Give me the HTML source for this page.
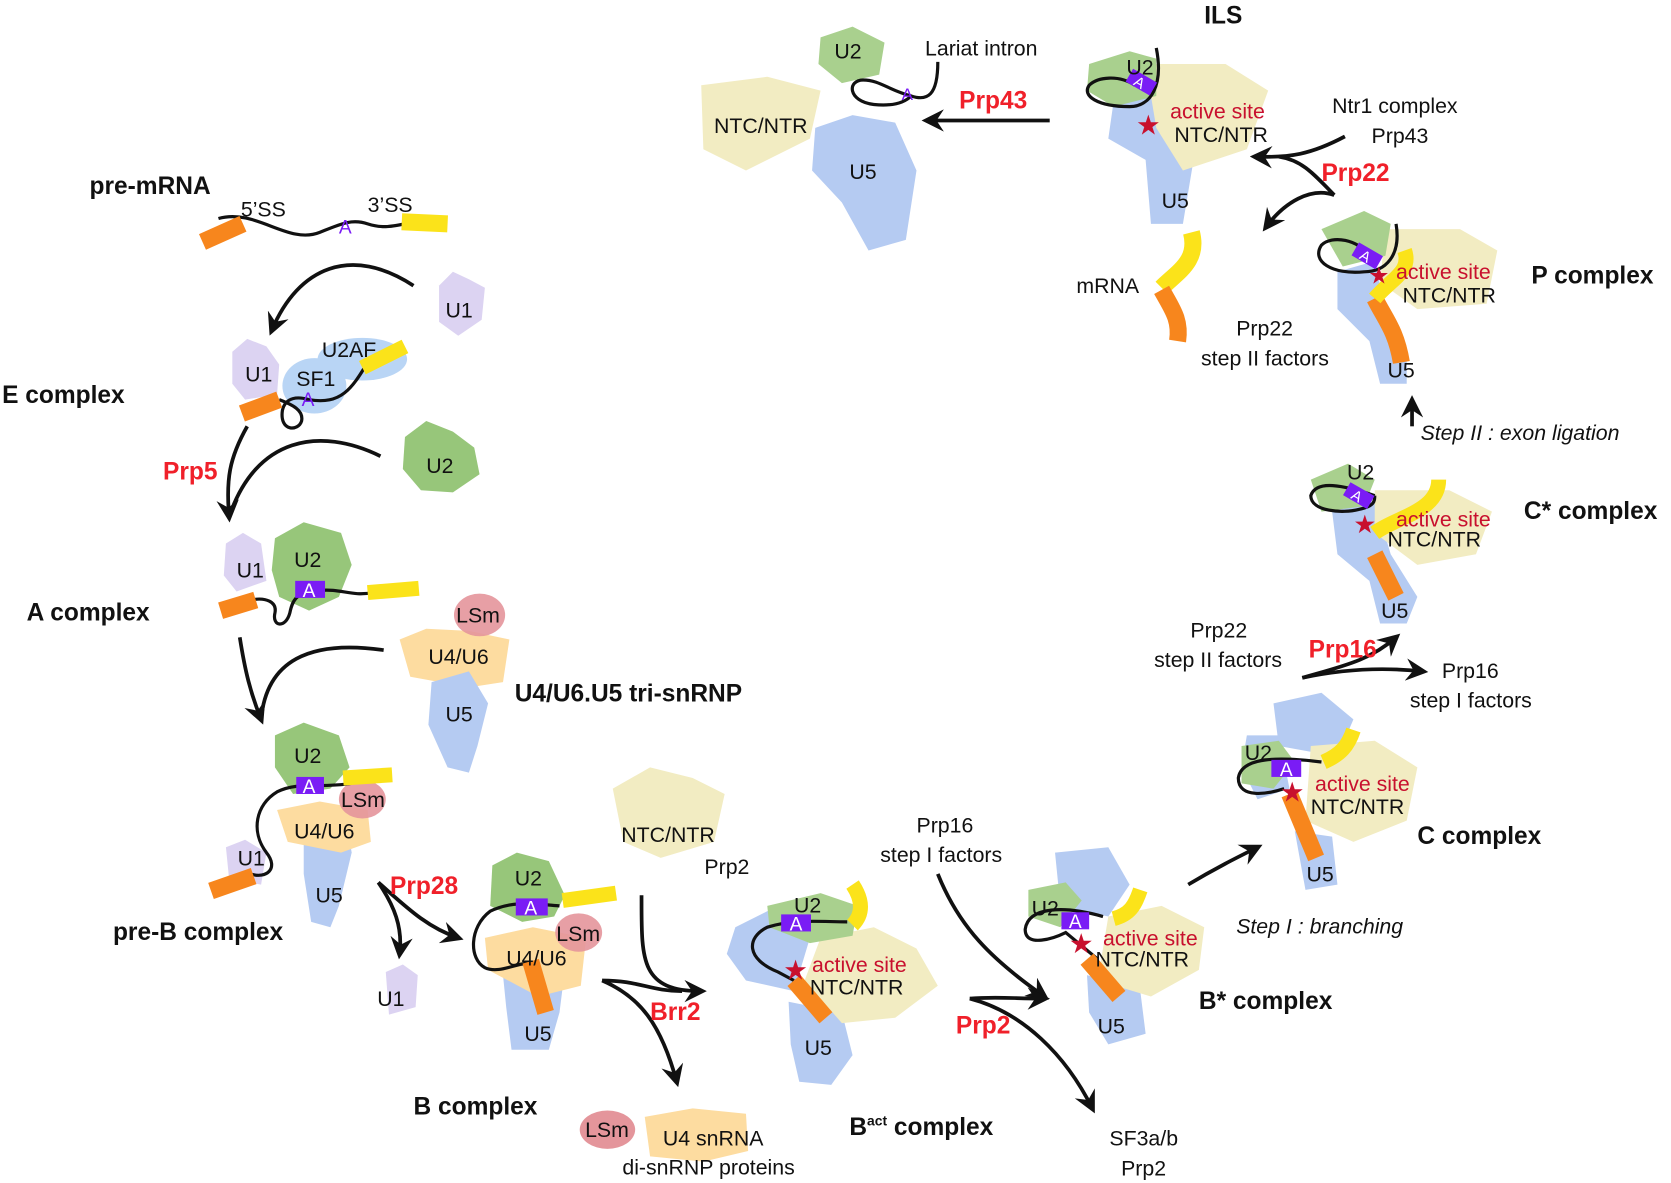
<!DOCTYPE html>
<html><head><meta charset="utf-8"><style>
html,body{margin:0;padding:0;background:#fff;}
svg{display:block}
text{font-family:"Liberation Sans",sans-serif;font-size:20px;fill:#111}
.b{font-weight:bold;font-size:23px}
.r{font-weight:bold;font-size:23px;fill:#f0202a}
.as{fill:#c8102e}
.st{fill:#c8102e;font-size:26px}
.i{font-style:italic}
.A{fill:#fff;font-size:18px}
</style></head><body>
<svg width="1671" height="1183" viewBox="0 0 1568 1110" xmlns="http://www.w3.org/2000/svg">
<defs>
<marker id="ah" viewBox="0 0 12 12" refX="9" refY="6" markerWidth="6" markerHeight="6" orient="auto" markerUnits="strokeWidth">
<path d="M0,0 L12,6 L0,12 L4,6 z" fill="#111"/></marker>
</defs>
<g fill="none" stroke="#111" stroke-width="3.5" marker-end="url(#ah)">
<path d="M388,268 C330,230 280,250 255,310"/>
<path d="M232,400 C215,430 212,450 215,485"/>
<path d="M357,428 C300,400 240,410 215,485" marker-end="none"/>
<path d="M225,598 C230,630 235,650 245,675"/>
<path d="M360,610 C290,600 250,620 245,675" marker-end="none"/>
<path d="M355,828 C370,850 378,870 375,895"/>
<path d="M355,828 C380,850 400,870 430,880"/>
<path d="M565,920 C600,935 620,960 635,1015"/>
<path d="M565,920 C600,920 610,930 640,930" marker-end="none"/>
<path d="M602,840 C602,900 600,930 658,930"/>
<path d="M880,820 C900,870 930,900 980,935" />
<path d="M910,937 C960,950 1000,990 1025,1040"/>
<path d="M910,937 C935,935 950,937 980,937"/>
<path d="M1115,830 C1140,815 1160,805 1180,795"/>
<path d="M1222,636 C1250,630 1290,625 1335,630"/>
<path d="M1222,636 C1260,625 1285,620 1310,598"/>
<path d="M1325,400 L1325,376"/>
<path d="M1262,128 C1230,145 1210,148 1178,147"/>
<path d="M1252,183 C1230,160 1220,150 1200,147" marker-end="none"/>
<path d="M1252,183 C1230,175 1205,190 1188,213"/>
<path d="M985,113 L870,113"/>
</g>
<path d="M205,205 C240,195 270,230 300,218 C320,210 330,205 345,210 C360,215 370,212 390,208" fill="none" stroke="#111" stroke-width="3"/>
<path d="M190,227 L228,210" stroke="#f7861d" stroke-width="16" fill="none"/>
<path d="M377,208 L420,210" stroke="#fbe31a" stroke-width="16" fill="none"/>
<text x="84" y="182" class="b">pre-mRNA</text><text x="226" y="203">5’SS</text><text x="345" y="199">3’SS</text>
<text x="318" y="219" style="fill:#7a1cf5;font-size:18px">A</text>
<path d="M412,268 L425,255 L440,262 L455,270 L452,300 L430,315 L412,302 Z" fill="#dcd3f2"/><text x="418" y="298">U1</text>
<path d="M218,330 L232,318 L250,325 L262,342 L260,370 L230,375 L218,360Z" fill="#dcd3f2"/>
<ellipse cx="340" cy="337" rx="42" ry="20" fill="#b9d5f5"/>
<ellipse cx="295" cy="362" rx="30" ry="26" fill="#b9d5f5"/>
<path d="M262,375 C275,380 285,385 283,395 C280,405 262,405 265,385 C268,372 280,372 290,375 C320,380 330,365 345,340" fill="none" stroke="#111" stroke-width="3"/>
<path d="M227,388 L262,375" stroke="#f7861d" stroke-width="16"/>
<path d="M340,345 L380,325" stroke="#fbe31a" stroke-width="14"/>
<text x="230" y="358">U1</text><text x="302" y="335">U2AF</text><text x="278" y="362">SF1</text><text x="283" y="381" style="fill:#7a1cf5;font-size:18px">A</text>
<text x="2" y="378" class="b">E complex</text><text x="153" y="450" class="r">Prp5</text>
<path d="M380,410 L400,395 L425,405 L445,420 L450,445 L425,462 L395,460 L378,440Z" fill="#97c67a"/><text x="400" y="444">U2</text>
<path d="M212,510 L228,500 L245,510 L250,545 L222,555 L210,540Z" fill="#dcd3f2"/>
<path d="M258,505 L285,490 L320,500 L330,530 L318,560 L290,573 L262,560 L255,535Z" fill="#97c67a"/>
<path d="M235,563 C250,560 260,565 258,575 C255,588 268,590 272,575 C275,560 280,556 300,554 C320,552 330,560 350,556" fill="none" stroke="#111" stroke-width="3"/>
<path d="M207,573 L240,563" stroke="#f7861d" stroke-width="16"/>
<path d="M345,556 L393,552" stroke="#fbe31a" stroke-width="14"/>
<rect x="277" y="545" width="28" height="16" fill="#7a1cf5"/><text x="284" y="560" class="A">A</text>
<text x="222" y="542">U1</text><text x="276" y="532">U2</text>
<text x="25" y="582" class="b">A complex</text>
<path d="M375,600 L400,590 L440,592 L478,600 L472,640 L440,645 L385,635Z" fill="#fddca0"/>
<ellipse cx="450" cy="577" rx="24" ry="20" fill="#e4959b" opacity=".9"/>
<path d="M405,640 L440,630 L458,660 L448,700 L440,725 L420,720 L402,680Z" fill="#b5cbf2"/>
<text x="428" y="584">LSm</text><text x="402" y="623">U4/U6</text><text x="418" y="677">U5</text>
<text x="483" y="658" class="b">U4/U6.U5 tri-snRNP</text>
<path d="M285,760 L325,770 L330,800 L318,850 L310,870 L292,865 L285,820Z" fill="#b5cbf2"/>
<path d="M258,690 L285,678 L318,690 L328,720 L310,740 L275,745 L258,720Z" fill="#97c67a"/>
<path d="M260,760 L300,752 L345,760 L348,790 L320,800 L270,790Z" fill="#fddca0"/>
<ellipse cx="340" cy="750" rx="22" ry="18" fill="#e4959b" opacity=".9"/>
<path d="M212,795 L230,788 L250,800 L245,830 L215,825Z" fill="#dcd3f2"/>
<path d="M330,735 C300,740 280,733 260,743 C240,755 235,780 250,800 C262,815 250,825 235,820" fill="none" stroke="#111" stroke-width="3"/>
<path d="M198,836 L238,822" stroke="#f7861d" stroke-width="16"/>
<path d="M322,730 L368,727" stroke="#fbe31a" stroke-width="14"/>
<rect x="278" y="729" width="26" height="16" fill="#7a1cf5"/><text x="284" y="744" class="A">A</text>
<text x="276" y="716">U2</text><text x="320" y="757">LSm</text><text x="276" y="787">U4/U6</text><text x="223" y="812">U1</text><text x="296" y="847">U5</text>
<text x="106" y="882" class="b">pre-B complex</text><text x="366" y="839" class="r">Prp28</text>
<path d="M362,912 L378,905 L392,915 L390,945 L365,952Z" fill="#dcd3f2"/><text x="354" y="944">U1</text>
<path d="M470,895 L510,885 L530,910 L525,950 L515,985 L480,985 L475,945Z" fill="#b5cbf2"/>
<path d="M462,812 L485,800 L515,808 L530,840 L520,860 L490,865 L460,850Z" fill="#97c67a"/>
<path d="M455,880 L500,870 L550,880 L545,925 L505,935 L458,910Z" fill="#fddca0"/>
<ellipse cx="543" cy="875" rx="22" ry="18" fill="#e4959b" opacity=".9"/>
<path d="M525,850 C500,848 480,845 460,855 C440,870 440,900 455,908 C470,915 490,900 500,905" fill="none" stroke="#111" stroke-width="3"/>
<path d="M498,902 L512,950" stroke="#f7861d" stroke-width="16"/>
<path d="M528,845 L578,838" stroke="#fbe31a" stroke-width="14"/>
<rect x="484" y="843" width="30" height="16" fill="#7a1cf5"/><text x="492" y="858" class="A">A</text>
<text x="483" y="831">U2</text><text x="522" y="883">LSm</text><text x="475" y="906">U4/U6</text><text x="492" y="977">U5</text>
<text x="388" y="1046" class="b">B complex</text><text x="610" y="957" class="r">Brr2</text>
<path d="M575,740 L610,720 L650,730 L680,745 L670,790 L620,805 L585,790Z" fill="#f2ecc2"/>
<text x="583" y="790">NTC/NTR</text><text x="661" y="820">Prp2</text>
<ellipse cx="570" cy="1060" rx="26" ry="18" fill="#e4959b"/><path d="M605,1048 L650,1040 L700,1045 L702,1080 L660,1090 L610,1085Z" fill="#fddca0"/>
<text x="549" y="1067">LSm</text><text x="622" y="1075">U4 snRNA</text><text x="584" y="1102">di-snRNP proteins</text>
<path d="M690,870 L730,850 L760,880 L745,930 L700,920 L682,895Z" fill="#b5cbf2"/>
<path d="M740,940 L790,950 L800,990 L780,1018 L750,1015 L742,980Z" fill="#b5cbf2"/>
<path d="M770,880 L820,870 L860,890 L880,925 L840,955 L790,960 L755,920Z" fill="#f2ecc2"/>
<path d="M720,850 L770,838 L805,850 L800,878 L760,885 L722,870Z" fill="#a9d08e"/>
<path d="M795,865 C770,865 745,862 720,870 C700,880 700,900 730,912 L745,920" fill="none" stroke="#111" stroke-width="3"/>
<path d="M745,920 L775,955" stroke="#f7861d" stroke-width="16"/>
<path d="M800,830 C810,845 810,858 800,868" stroke="#fbe31a" stroke-width="14" fill="none"/>
<rect x="733" y="858" width="28" height="16" fill="#7a1cf5"/><text x="741" y="873" class="A">A</text>
<text x="745" y="856">U2</text><text x="735" y="919" class="st">★</text><text x="762" y="912" class="as">active site</text><text x="760" y="933">NTC/NTR</text><text x="755" y="990">U5</text>
<text x="797" y="1065" class="b">B<tspan dy="-9" font-size="13">act</tspan><tspan dy="9"> complex</tspan></text>
<text x="860" y="781">Prp16</text><text x="826" y="809">step I factors</text><text x="897" y="970" class="r">Prp2</text>
<text x="1041" y="1075">SF3a/b</text><text x="1052" y="1103">Prp2</text>
<path d="M990,800 L1040,795 L1060,830 L1040,860 L995,850Z" fill="#b5cbf2"/>
<path d="M1020,915 L1070,930 L1075,970 L1040,980 L1022,950Z" fill="#b5cbf2"/>
<path d="M1040,860 L1090,850 L1130,870 L1125,910 L1080,935 L1030,920Z" fill="#f2ecc2"/>
<path d="M965,835 L1000,828 L1015,845 L995,870 L965,860Z" fill="#a9d08e"/>
<path d="M1035,860 C1000,850 965,850 962,872 C962,890 990,880 1000,875 L1030,900" fill="none" stroke="#111" stroke-width="3"/>
<path d="M1020,900 L1050,935" stroke="#f7861d" stroke-width="16"/>
<path d="M1070,835 C1065,850 1060,858 1045,862" stroke="#fbe31a" stroke-width="14" fill="none"/>
<rect x="996" y="856" width="26" height="16" fill="#7a1cf5"/><text x="1003" y="871" class="A">A</text>
<text x="968" y="859">U2</text><text x="1003" y="894" class="st">★</text><text x="1035" y="887" class="as">active site</text><text x="1028" y="907">NTC/NTR</text><text x="1030" y="970">U5</text>
<text x="1125" y="947" class="b">B* complex</text>
<path d="M1195,660 L1240,650 L1270,675 L1255,710 L1200,700Z" fill="#b5cbf2"/>
<path d="M1170,690 L1200,690 L1210,740 L1180,750 L1165,720Z" fill="#b5cbf2"/>
<path d="M1215,780 L1250,785 L1255,830 L1225,835Z" fill="#b5cbf2"/>
<path d="M1230,700 L1290,695 L1330,720 L1320,770 L1270,790 L1225,770Z" fill="#f2ecc2"/>
<path d="M1165,700 L1200,695 L1215,715 L1195,740 L1165,735Z" fill="#a9d08e"/>
<path d="M1240,715 C1200,710 1165,710 1162,730 C1162,750 1190,745 1205,740" fill="none" stroke="#111" stroke-width="3"/>
<path d="M1210,745 L1235,805" stroke="#f7861d" stroke-width="16"/>
<path d="M1270,685 C1265,700 1258,708 1242,715" stroke="#fbe31a" stroke-width="14" fill="none"/>
<rect x="1193" y="713" width="28" height="16" fill="#7a1cf5"/><text x="1201" y="728" class="A">A</text>
<text x="1168" y="713">U2</text><text x="1201" y="752" class="st">★</text><text x="1234" y="742" class="as">active site</text><text x="1230" y="764">NTC/NTR</text><text x="1226" y="827">U5</text>
<text x="1330" y="792" class="b">C complex</text><text x="1160" y="876" class="i">Step I : branching</text>
<text x="1117" y="598">Prp22</text><text x="1083" y="626">step II factors</text><text x="1228" y="617" class="r">Prp16</text>
<text x="1353" y="636">Prp16</text><text x="1323" y="664">step I factors</text>
<path d="M1250,480 L1290,470 L1305,520 L1330,560 L1320,585 L1295,585 L1285,545 L1255,520Z" fill="#b5cbf2"/>
<path d="M1290,460 L1360,460 L1400,480 L1385,520 L1330,530 L1290,500Z" fill="#f2ecc2"/>
<path d="M1230,450 L1265,435 L1290,450 L1280,475 L1240,480Z" fill="#a9d08e"/>
<path d="M1290,465 C1260,455 1235,450 1230,465 C1230,480 1260,482 1275,478 C1290,475 1290,470 1290,465" fill="none" stroke="#111" stroke-width="3"/>
<path d="M1290,520 L1310,560" stroke="#f7861d" stroke-width="16"/>
<path d="M1350,450 C1350,480 1310,485 1290,500" stroke="#fbe31a" stroke-width="14" fill="none"/>
<g transform="rotate(30 1275 465)"><rect x="1262" y="458" width="26" height="14" fill="#7a1cf5"/><text x="1269" y="471" class="A" style="font-size:14px">A</text></g>
<text x="1264" y="450">U2</text><text x="1270" y="500" class="st" style="font-size:24px">★</text><text x="1310" y="494" class="as">active site</text><text x="1302" y="513">NTC/NTR</text><text x="1296" y="580">U5</text>
<text x="1430" y="487" class="b">C* complex</text><text x="1333" y="413" class="i">Step II : exon ligation</text>
<path d="M1255,255 L1290,245 L1300,290 L1320,330 L1320,360 L1295,360 L1285,320 L1255,290Z" fill="#b5cbf2"/>
<path d="M1300,215 L1370,215 L1405,235 L1395,285 L1330,290 L1295,265Z" fill="#f2ecc2"/>
<path d="M1240,215 L1280,198 L1305,210 L1300,240 L1260,250Z" fill="#a9d08e"/>
<path d="M1310,210 C1315,240 1300,255 1280,255 C1250,258 1230,245 1240,230 C1250,220 1275,225 1285,240" fill="none" stroke="#111" stroke-width="3"/>
<path d="M1290,280 C1300,300 1310,310 1315,340" stroke="#f7861d" stroke-width="16" fill="none"/>
<path d="M1318,235 C1325,255 1305,262 1290,280" stroke="#fbe31a" stroke-width="14" fill="none"/>
<g transform="rotate(30 1283 240)"><rect x="1270" y="233" width="26" height="14" fill="#7a1cf5"/><text x="1277" y="246" class="A" style="font-size:14px">A</text></g>
<text x="1284" y="266" class="st" style="font-size:22px">★</text><text x="1310" y="262" class="as">active site</text><text x="1316" y="284">NTC/NTR</text><text x="1302" y="354">U5</text>
<text x="1437" y="266" class="b">P complex</text>
<text x="1160" y="315">Prp22</text><text x="1127" y="343">step II factors</text>
<path d="M1118,218 C1125,245 1105,255 1090,270" stroke="#fbe31a" stroke-width="16" fill="none"/>
<path d="M1090,272 C1100,290 1108,300 1105,320" stroke="#f7861d" stroke-width="16" fill="none"/>
<text x="1010" y="275">mRNA</text>
<path d="M1045,95 L1095,85 L1110,120 L1120,150 L1110,210 L1080,210 L1075,150 L1040,130Z" fill="#b5cbf2"/>
<path d="M1075,60 L1150,60 L1190,85 L1170,140 L1110,160 L1085,120Z" fill="#f2ecc2"/>
<path d="M1022,60 L1060,48 L1085,55 L1085,90 L1045,100 L1020,85Z" fill="#a9d08e"/>
<path d="M1085,45 C1092,80 1080,100 1060,100 C1030,100 1015,90 1022,80 C1030,72 1050,70 1065,80" fill="none" stroke="#111" stroke-width="3"/>
<g transform="rotate(30 1071 77)"><rect x="1058" y="70" width="26" height="14" fill="#7a1cf5"/><text x="1065" y="83" class="A" style="font-size:14px">A</text></g>
<text x="1057" y="70">U2</text><text x="1066" y="126" class="st">★</text><text x="1098" y="111" class="as">active site</text><text x="1102" y="133">NTC/NTR</text><text x="1090" y="195">U5</text>
<text x="1130" y="22" class="b">ILS</text>
<text x="1250" y="106">Ntr1 complex</text><text x="1287" y="134">Prp43</text><text x="1240" y="170" class="r">Prp22</text>
<path d="M658,80 L720,72 L770,85 L760,130 L700,160 L660,140Z" fill="#f2ecc2"/>
<path d="M770,35 L800,25 L830,40 L825,70 L790,78 L768,60Z" fill="#a9d08e"/>
<path d="M765,120 L800,108 L840,115 L860,160 L850,225 L815,235 L790,190 L762,160Z" fill="#b5cbf2"/>
<path d="M880,58 C880,90 870,95 855,90 C835,85 825,75 810,75 C795,75 795,95 820,98 C840,100 850,95 855,90" fill="none" stroke="#111" stroke-width="3"/>
<text x="846" y="94" style="fill:#7a1cf5;font-size:16px">A</text>
<text x="783" y="55">U2</text><text x="670" y="125">NTC/NTR</text><text x="797" y="168">U5</text>
<text x="868" y="52">Lariat intron</text><text x="900" y="102" class="r">Prp43</text>
</svg>
</body></html>
